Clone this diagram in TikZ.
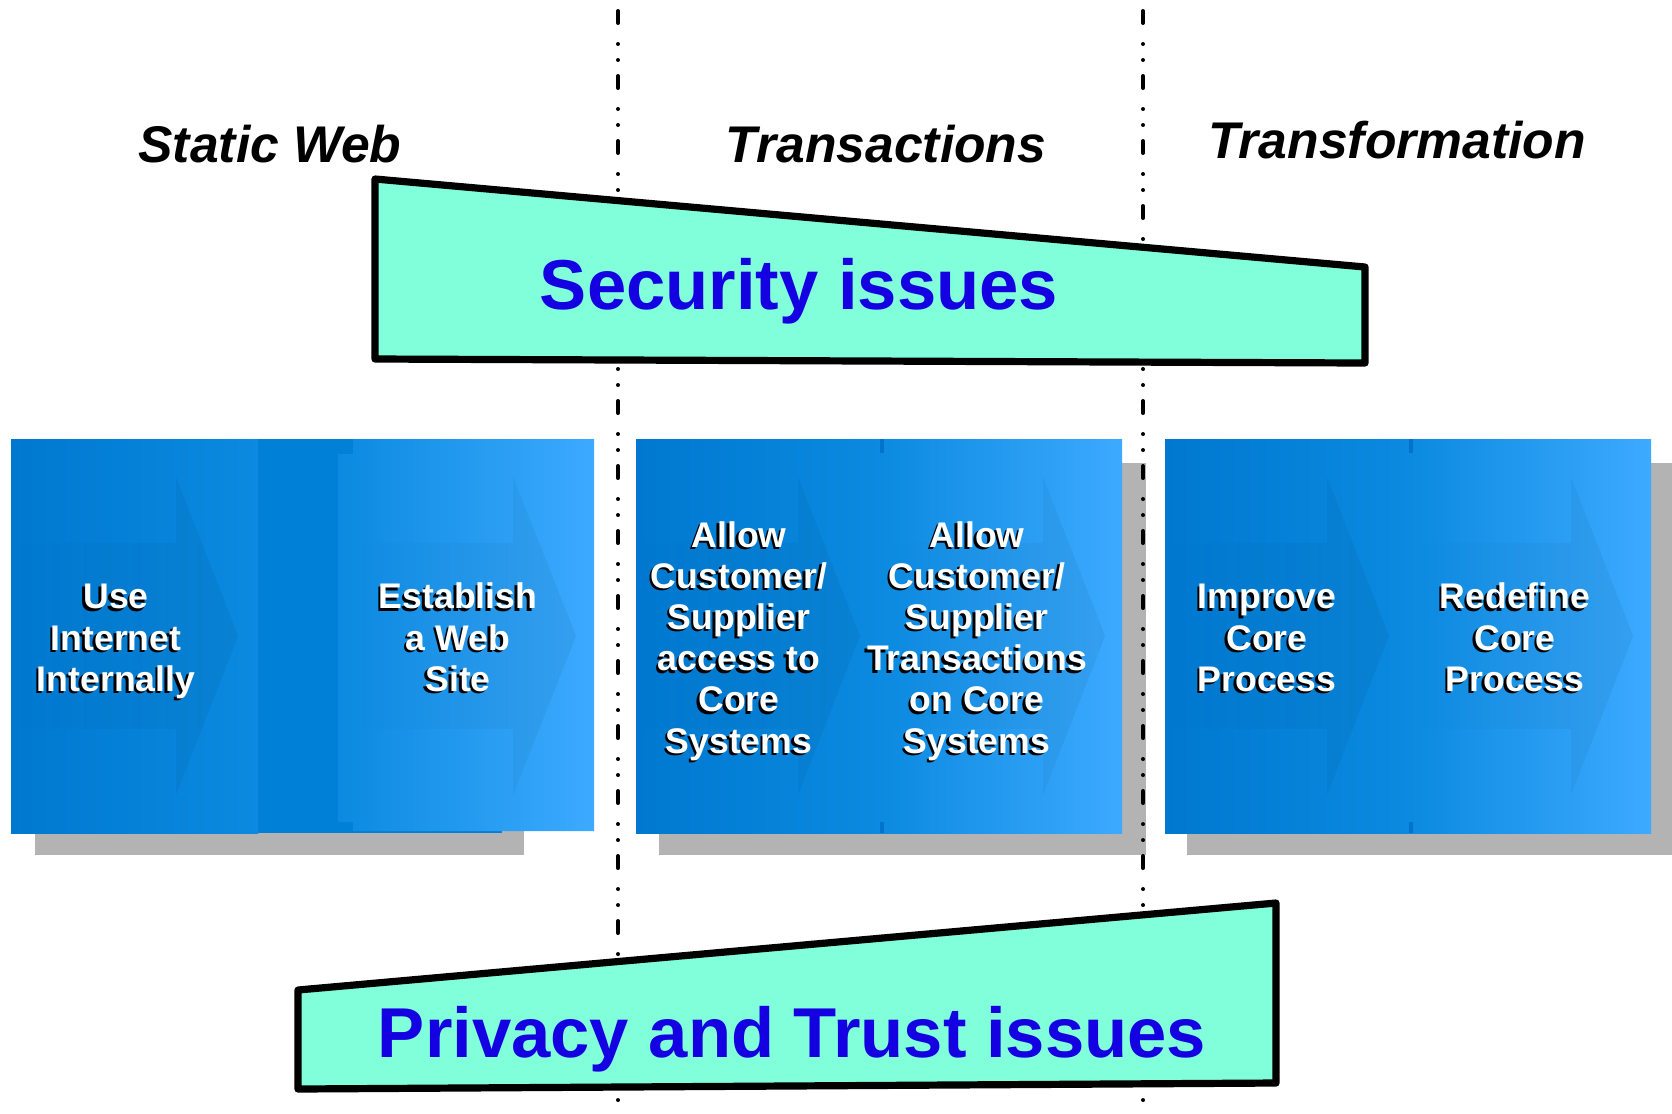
\documentclass[tikz,border=0pt]{standalone}
\usepackage{fontspec}
\setmainfont{Liberation Sans}
\usetikzlibrary{fadings}
\definecolor{issuefill}{RGB}{128,255,218}
\definecolor{issuetext}{RGB}{20,0,225}
\definecolor{bA}{RGB}{0,120,208}
\definecolor{bB}{RGB}{11,138,224}
\definecolor{bC}{RGB}{60,170,255}
\definecolor{bBand}{RGB}{0,128,214}
\definecolor{tickblue}{RGB}{0,116,202}
\definecolor{shadowgray}{RGB}{179,179,179}
\tikzfading[name=shaftfade, left color=transparent!100, middle color=transparent!0, right color=transparent!0]
\newcommand{\tstrut}{\rule{0pt}{13bp}}
\newcommand{\bstrut}{\rule[-4bp]{0pt}{4bp}}
\newcommand{\boxlabel}[4]{%
  \node[boxtext, text=black] at (#2-2.5,#3+2.5) {\tstrut #4\bstrut};
  \node[boxtext, text=white] (#1) at (#2,#3) {\tstrut #4\bstrut};}
\newcommand{\chev}[3]{%
  \fill[chevron] (#1,543) -- (#2,543) -- (#2,477) -- (#3,636) -- (#2,795) -- (#2,729) -- (#1,729) -- cycle;}
\tikzset{
  phase/.style={font=\fontsize{25.8bp}{30bp}\selectfont\bfseries\itshape, anchor=base, inner sep=0pt},
  issue/.style={font=\fontsize{35.3bp}{40bp}\selectfont\bfseries, text=issuetext, anchor=base, inner sep=0pt},
  issueshape/.style={draw=black, line width=3.6bp, fill=issuefill, line join=round, line cap=round},
  boxtext/.style={font=\fontsize{17.8bp}{20.6bp}\selectfont\bfseries, align=center, inner sep=0pt},
  shadowbox/.style={fill=shadowgray},
  divider/.style={line width=2bp, line cap=round, dash pattern=on 6bp off 10.5bp on 0bp off 8bp on 0bp off 8bp},
  chevron/.style={fill=black, fill opacity=0.055, path fading=shaftfade},
  firsthalf/.style={left color=bA, right color=bB},
  secondhalf/.style={left color=bB, right color=bC},
}
\begin{document}
\begin{tikzpicture}[x=0.5bp,y=-0.5bp]
\useasboundingbox (0,0) rectangle (1672,1113);
% shadows
\fill[shadowbox] (35,461) rectangle (524,855);
\fill[shadowbox] (659,463) rectangle (1146,855);
\fill[shadowbox] (1187,463) rectangle (1672,855);
% dividers
\coordinate (d1top) at (618,11);
\coordinate (d1bot) at (618,1113);
\coordinate (d2top) at (1143,11);
\coordinate (d2bot) at (1143,1113);
\draw[divider] (d1top) -- (d1bot);
\draw[divider] (d2top) -- (d2bot);
% group 1
\fill[bBand] (258,439) rectangle (502,833);
\shade[firsthalf] (11,439) rectangle (258,833);
\shade[secondhalf] (338,454) -- (353,454) -- (353,439) -- (594,439) -- (594,831) -- (353,831) -- (353,822) -- (338,822) -- cycle;
% group 2
\shade[firsthalf] (636,439) rectangle (881,833);
\shade[secondhalf] (881,439) rectangle (1122,833);
\fill[tickblue] (880,439) rectangle (884,453);
\fill[tickblue] (880,822) rectangle (884,833);
% group 3
\shade[firsthalf] (1165,439) rectangle (1410,833);
\shade[secondhalf] (1410,439) rectangle (1651,833);
\fill[tickblue] (1409,439) rectangle (1413,453);
\fill[tickblue] (1409,822) rectangle (1413,833);
% chevrons
\chev{11}{176}{238}
\chev{353}{513}{576}
\chev{636}{798}{860}
\chev{884}{1043}{1105}
\chev{1165}{1327}{1389}
\chev{1413}{1571}{1633}
% labels
\boxlabel{useint}{116}{641}{Use\\Internet\\Internally}
\boxlabel{estweb}{458}{641}{Establish\\a Web\\Site}
\boxlabel{access}{739}{641}{Allow\\Customer/\\Supplier\\access to\\Core\\Systems}
\boxlabel{trans}{977}{641}{Allow\\Customer/\\Supplier\\Transactions\\on Core\\Systems}
\boxlabel{improve}{1267}{641}{Improve\\Core\\Process}
\boxlabel{redefine}{1515}{641}{Redefine\\Core\\Process}
% issue shapes
\draw[issueshape] (375,179) -- (1365,267) -- (1365,363) -- (375,359) -- cycle;
\node[issue] (security) at (799,309) {Security issues};
\draw[issueshape] (298,990) -- (1276,903) -- (1276,1083) -- (298,1089) -- cycle;
\node[issue] (privacy) at (792,1057) {Privacy and Trust issues};
% phase titles
\node[phase] (static) at (270,162) {Static Web};
\node[phase] (transactions) at (886,162) {Transactions};
\node[phase] (transformation) at (1397,158) {Transformation};
\end{tikzpicture}
\end{document}
